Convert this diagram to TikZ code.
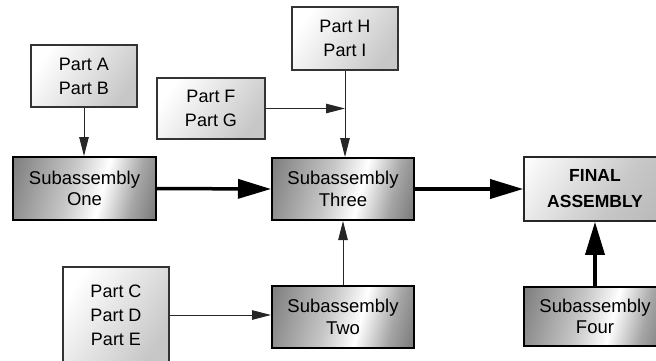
\documentclass[tikz,border=0pt]{standalone}
\usepackage{fontspec}
\setmainfont{Liberation Sans}
\usetikzlibrary{arrows.meta}
\pgfdeclarehorizontalshading{metalsh}{100bp}{color(0bp)=(black!58); color(20bp)=(black!50); color(44bp)=(black!22); color(57bp)=(white); color(70bp)=(black!35); color(88bp)=(black!65); color(100bp)=(black!72)}
\pgfdeclarehorizontalshading{partsh}{100bp}{color(0bp)=(white); color(25bp)=(white); color(75bp)=(black!22); color(100bp)=(black!22)}
\pgfdeclarehorizontalshading{finsh}{100bp}{color(0bp)=(white); color(15bp)=(white); color(60bp)=(black!22); color(100bp)=(black!32)}
\tikzset{
  partbox/.style={draw=black!80, line width=1.4pt, shading=partsh, shading angle=-35,
    align=center, inner sep=0pt, font=\fontsize{18}{24}\selectfont},
  subbox/.style={draw=black, line width=2pt, shading=metalsh, shading angle=-15,
    align=center, inner sep=0pt, font=\fontsize{18.5}{21.5}\selectfont},
  finbox/.style={draw=black!85, line width=1.6pt, shading=finsh, shading angle=-35,
    align=center, inner sep=0pt, font=\bfseries\fontsize{17.5}{26}\selectfont},
  thinarrow/.style={draw=black!85, line width=1pt, -{Triangle[length=19pt,width=9.5pt]}},
  thickarrow/.style={draw=black, line width=3.5pt, -{Triangle[length=33pt,width=19pt]}},
}
\begin{document}
\begin{tikzpicture}[x=1pt,y=-1pt]
\useasboundingbox (0,0) rectangle (656,360);
\clip (0,0) rectangle (656,360);
\node[partbox, minimum width=106pt, minimum height=62pt] (pab) at (84,76) {Part A\\Part B};
\node[partbox, minimum width=108pt, minimum height=61pt] (pfg) at (211,108.5) {Part F\\Part G};
\node[partbox, minimum width=106pt, minimum height=63pt] (phi) at (345,38.5) {Part H\\Part I};
\node[partbox, minimum width=106pt, minimum height=96pt] (pcde) at (116,315) {Part C\\Part D\\Part E};
\node[subbox, minimum width=143pt, minimum height=63pt] (s1) at (84.5,188.5) {Subassembly\\One};
\node[subbox, minimum width=142pt, minimum height=62pt] (s3) at (343,189) {Subassembly\\Three};
\node[subbox, minimum width=142pt, minimum height=62pt] (s2) at (343,317) {Subassembly\\Two};
\node[finbox, minimum width=142pt, minimum height=64pt] (fin) at (595,189) {FINAL\\ASSEMBLY};
\node[subbox, minimum width=142pt, minimum height=59pt] (s4) at (595,316.5) {Subassembly\\Four};
\coordinate (junc) at (pfg.east -| phi.south);
\draw[thinarrow] (pab.south) -- (pab.south |- s1.north);
\draw[thinarrow] (pfg.east) -- (junc);
\draw[thinarrow] (phi.south) -- (phi.south |- s3.north);
\draw[thinarrow] (s2.north) -- (s3.south);
\draw[thinarrow] (pcde.east) -- (pcde.east -| s2.west);
\draw[thickarrow] (s1.east) -- (s3.west);
\draw[thickarrow] (s3.east) -- (fin.west);
\draw[thickarrow] (s4.north) -- (fin.south);
\end{tikzpicture}
\end{document}
